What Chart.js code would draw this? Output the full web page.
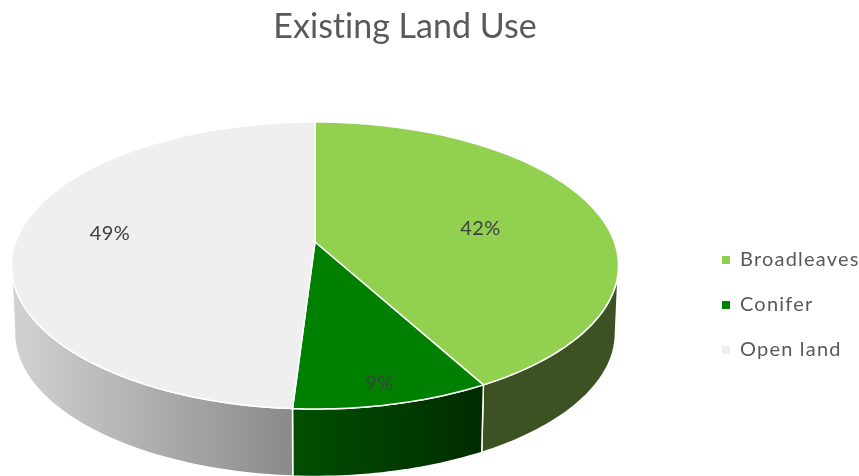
<!DOCTYPE html>
<html>
<head>
<meta charset="utf-8">
<title>Existing Land Use</title>
<script src="https://cdn.jsdelivr.net/npm/chart.js@4"></script>
<style>
  html, body { margin: 0; padding: 0; background: #fff; overflow: hidden; }
  canvas { display: block; }
</style>
</head>
<body>
<canvas id="chart" width="859" height="476"></canvas>
<script>
const landUses = ['Broadleaves', 'Conifer', 'Open land'];
const sharePercent = [42, 9, 49];
const topColors = ['#92D050', '#008000', '#EFEFEF'];
const wallLeftColors = ['#3C5222', '#004F00', '#D2D2D2'];
const wallRightColors = ['#3C5222', '#002C00', '#8A8A8A'];

// label placement inside each slice: fraction of the radius, and of the slice sweep
const labelRadius = [0.57, 0.89, 0.695];
const labelSweep = [0.53, 0.52, 0.52];

// tilted disc: apex of the slices sits above the centre of the drawn ellipse
const disc = { x: 315, y: 242, width: 299.4, down: 100, persp: -0.1638, depth: 67.5, wallScale: 0.99 };

function project(theta, r) {
  const u = r * Math.sin(theta);
  const v = -r * Math.cos(theta);
  const w = 1 + disc.persp * v;
  return { x: disc.x + disc.width * u / w, y: (disc.y + disc.down * v) / w };
}

function rimPoints(from, to) {
  const steps = Math.max(2, Math.ceil((to - from) / 0.02));
  const pts = [];
  for (let i = 0; i <= steps; i++) pts.push(project(from + (to - from) * i / steps, 1));
  return pts;
}

const pie3d = {
  id: 'pie3d',
  beforeDraw(chart) {
    // a tiny tracking value turns off Lato's ligatures in the title
    chart.ctx.letterSpacing = '0.01px';
  },
  afterLayout(chart) {
    // title centres over the disc, legend sits beside it
    chart.titleBlock.left = 0;
    chart.titleBlock.right = 810;
    chart.titleBlock.top = -1;
    const legend = chart.legend;
    legend.left = 722 - legend.options.labels.padding;
    legend.top = 134;
    legend.draw = function () {
      // legend text is tracked out wider than the title
      chart.ctx.letterSpacing = '1.2px';
      Object.getPrototypeOf(legend).draw.call(legend);
      chart.ctx.letterSpacing = '0.01px';
    };
  },
  beforeDatasetsDraw(chart) {
    const ctx = chart.ctx;
    const arcs = chart.getDatasetMeta(0).data;
    const frontFrom = Math.acos(disc.persp);
    const frontTo = 2 * Math.PI - frontFrom;
    ctx.save();
    ctx.lineJoin = 'round';
    ctx.strokeStyle = '#fff';

    // side walls, only the part facing the viewer
    arcs.forEach((arc, i) => {
      const from = Math.max(arc.startAngle + Math.PI / 2, frontFrom);
      const to = Math.min(arc.endAngle + Math.PI / 2, frontTo);
      if (to <= from) return;
      const rim = rimPoints(from, to);
      const base = rim.map(p => ({
        x: disc.x + (p.x - disc.x) * disc.wallScale,
        y: p.y + disc.depth
      })).reverse();
      const xs = rim.map(p => p.x);
      const grad = ctx.createLinearGradient(Math.min(...xs), 0, Math.max(...xs), 0);
      grad.addColorStop(0, wallLeftColors[i]);
      grad.addColorStop(1, wallRightColors[i]);
      ctx.beginPath();
      rim.concat(base).forEach((p, k) => (k ? ctx.lineTo(p.x, p.y) : ctx.moveTo(p.x, p.y)));
      ctx.closePath();
      ctx.fillStyle = grad;
      ctx.fill();
      ctx.lineWidth = 1.5;
      ctx.stroke();
    });

    // top face
    arcs.forEach((arc, i) => {
      const rim = rimPoints(arc.startAngle + Math.PI / 2, arc.endAngle + Math.PI / 2);
      ctx.beginPath();
      ctx.moveTo(disc.x, disc.y);
      rim.forEach(p => ctx.lineTo(p.x, p.y));
      ctx.closePath();
      ctx.fillStyle = topColors[i];
      ctx.fill();
      ctx.lineWidth = 1.5;
      ctx.stroke();
    });

    // percentage labels
    ctx.fillStyle = '#404040';
    ctx.font = '20px Lato';
    ctx.letterSpacing = '0.4px';
    ctx.textAlign = 'center';
    ctx.textBaseline = 'middle';
    arcs.forEach((arc, i) => {
      const theta = arc.startAngle + Math.PI / 2 + (arc.endAngle - arc.startAngle) * labelSweep[i];
      const p = project(theta, labelRadius[i]);
      ctx.fillText(sharePercent[i] + '%', p.x, p.y);
    });
    ctx.letterSpacing = '0.01px';
    ctx.restore();
    return false;
  }
};

new Chart(document.getElementById('chart'), {
  type: 'pie',
  data: {
    labels: landUses,
    datasets: [{
      data: sharePercent,
      backgroundColor: topColors,
      borderWidth: 0
    }]
  },
  plugins: [pie3d],
  options: {
    responsive: false,
    animation: false,
    plugins: {
      title: {
        display: true,
        text: 'Existing Land Use',
        color: '#595959',
        font: { family: 'Lato', size: 34, weight: 'normal' },
        padding: { top: 8, bottom: 8 }
      },
      legend: {
        position: 'right',
        labels: {
          color: '#595959',
          font: { family: 'Lato', size: 20 },
          boxWidth: 8,
          boxHeight: 8,
          padding: 25
        }
      },
      tooltip: { enabled: false }
    }
  }
});
</script>
</body>
</html>
